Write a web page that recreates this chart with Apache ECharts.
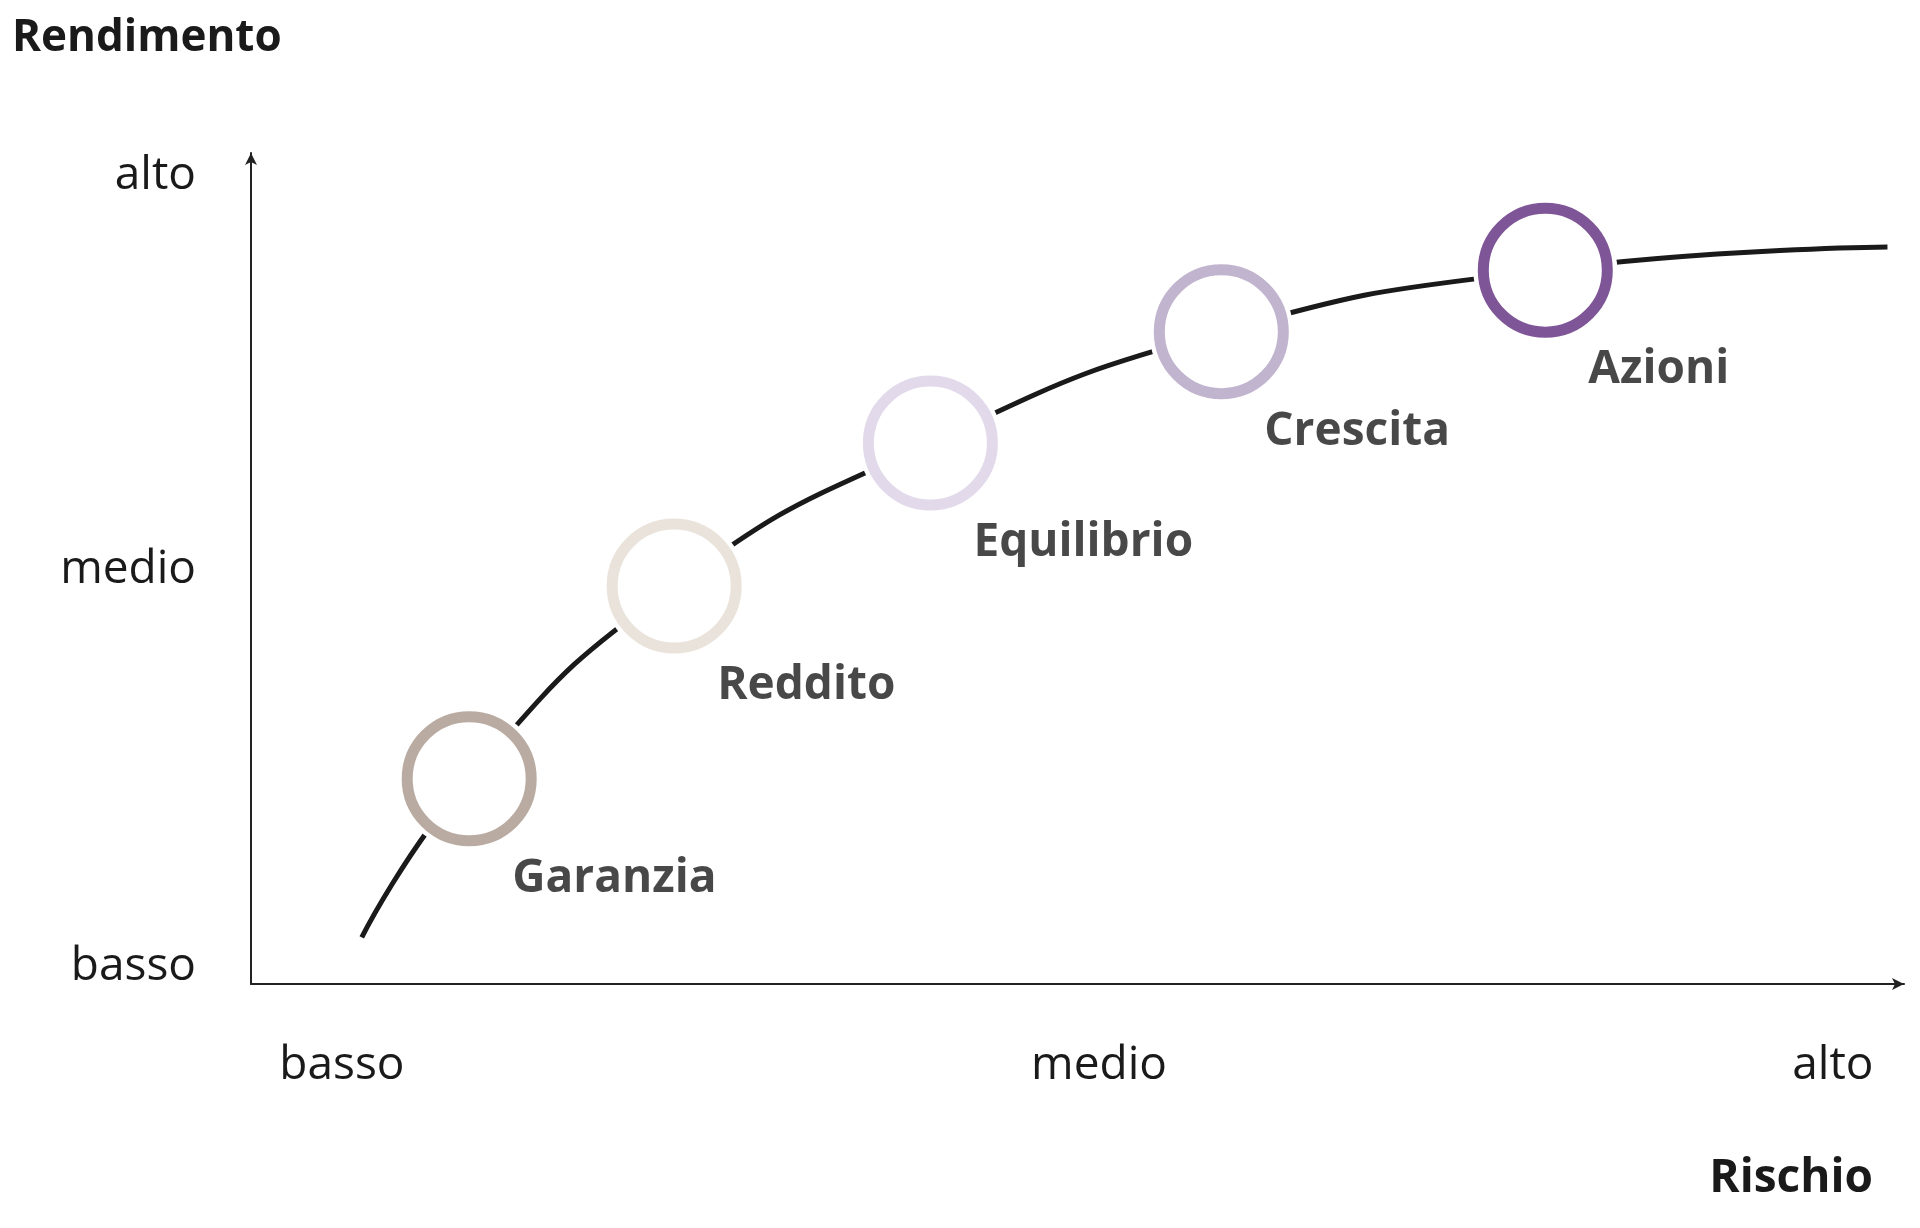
<!DOCTYPE html>
<html><head><meta charset="utf-8">
<script src="https://cdn.jsdelivr.net/npm/echarts@6/dist/echarts.min.js"></script>
<style>html,body{margin:0;background:#fff}#c{width:1920px;height:1228px}</style>
</head><body><div id="c"></div>
<script>
const curveX = [6.7, 13.2, 25.6, 41.1, 58.7, 78.3, 99.0];
const curveY = [5.6, 24.7, 47.9, 65.1, 78.5, 85.9, 88.7];
const names = ['Garanzia','Reddito','Equilibrio','Crescita','Azioni'];
const pointX = [13.2, 25.6, 41.1, 58.7, 78.3];
const pointY = [24.7, 47.9, 65.1, 78.5, 85.9];
const ringColors = ['#a8968a','#e5dcd2','#dbd0e6','#b2a1c3','#5e2a7c'];
const yTickLabels = ['basso','medio','alto'];
const yTickPos = [2.1, 49.8, 97.3];
const xTickLabels = ['basso','medio','alto'];
const xTickPos = [5.5, 51.3, 95.7];
const FONT = '"Open Sans", sans-serif';

const chart = echarts.init(document.getElementById('c'));
const axisCommon = {type:'value',min:0,max:100,splitLine:{show:false},axisTick:{show:false},axisLabel:{show:false},
  axisLine:{show:true,symbol:['none','arrow'],symbolSize:[9,12],lineStyle:{color:'#222',width:2}}};
chart.setOption({
  animation:false,
  grid:{left:251,right:16,top:153,bottom:244},
  xAxis:axisCommon, yAxis:axisCommon,
  series:[
    {type:'line',smooth:0.5,symbol:'none',data:curveX.map((x,i)=>[x,curveY[i]]),lineStyle:{color:'#1a1a1a',width:5},z:1},
    {type:'scatter',symbolSize:144,data:pointX.map((x,i)=>[x,pointY[i]]),itemStyle:{color:'#fff',opacity:1},z:2,silent:true},
    {type:'scatter',symbolSize:124,z:3,
     data:pointX.map((x,i)=>({value:[x,pointY[i]],name:names[i],itemStyle:{color:'#fff',borderColor:ringColors[i],borderWidth:11}})),
     label:{show:true,formatter:p=>p.name,position:'inside',offset:[43,100],align:'left',verticalAlign:'middle',
       fontFamily:FONT,fontWeight:'bold',fontSize:46,color:'#1a1a1a'}}
  ]
});
const g = [
  {type:'text',left:12,top:16,style:{text:'Rendimento',font:'bold 44px '+FONT,fill:'#1a1a1a'}},
  {type:'text',right:47,top:1156,style:{text:'Rischio',font:'bold 46px '+FONT,fill:'#1a1a1a'}}
];
yTickLabels.forEach((t,i)=>{
  const p = chart.convertToPixel({gridIndex:0},[0,yTickPos[i]]);
  g.push({type:'text',x:196,y:p[1],style:{text:t,font:'46px '+FONT,fill:'#1a1a1a',align:'right',verticalAlign:'middle'}});
});
xTickLabels.forEach((t,i)=>{
  const p = chart.convertToPixel({gridIndex:0},[xTickPos[i],0]);
  g.push({type:'text',x:p[0],y:1066,style:{text:t,font:'46px '+FONT,fill:'#1a1a1a',align:'center',verticalAlign:'middle'}});
});
chart.setOption({graphic:g});
</script></body></html>
